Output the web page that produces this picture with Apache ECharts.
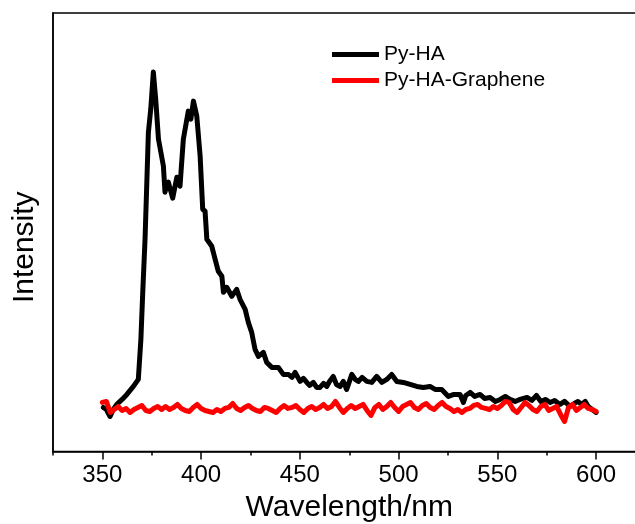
<!DOCTYPE html>
<html>
<head>
<meta charset="utf-8">
<script src="https://cdn.jsdelivr.net/npm/echarts@6/dist/echarts.min.js"></script>
<style>html,body{margin:0;padding:0;background:#fff}#c{width:635px;height:524px}</style>
</head>
<body>
<div id="c"></div>
<script>
// Wavelength (nm) and intensity (a.u.)
const pyHA_wl = [350.5,352,353.9,355.5,357.3,360,362.4,365.7,368.2,369.5,370.5,371.6,373.3,374.5,375.8,377,378.4,380.9,381.7,382.5,383.4,385.6,387.7,389.3,391,393.5,394.8,396.1,397.8,399.5,400.8,402,402.9,405.4,407.1,408.7,410.5,411.3,413,415.5,418,419.7,422.3,423.9,425.6,427.3,429,431.5,433.2,435.8,439.1,441.6,444.2,446,447.6,450.1,451.8,453.5,455,456.8,458.5,460.2,462,463.6,465,466.9,468.5,470.4,472,473.7,476.3,478,479.6,481.5,483.9,486.4,488.9,491.5,494,496.5,499.1,502.4,505.8,509.2,512.5,515.9,518.5,521.8,525.2,528,531.1,532.8,534,536.2,538.5,541.2,543.5,546.3,549,551.4,554,556.4,559,561.5,565,567.5,569.8,572,574.5,576.7,579,581.7,584,586.8,589,590.8,592.8,594.5,596,598,600];
const pyHA_int = [44,42,35,42,47,52,57,65,72,112,162,212,319,342,379,352,312,285,259,267,269,253,274,265,312,340,332,350,335,295,242,240,212,205,192,180,175,159,164,155,162,152,142,129,119,102,95,99,89,84,84,77,77,74,79,70,73,69,66,69,64,64,68,65,70,75,67,65,70,62,77,72,70,74,70,69,75,69,72,77,70,69,67,65,64,65,62,62,55,57,57,49,56,59,55,57,53,54,50,52,55,52,50,52,54,51,56,50,52,49,51,47,50,45,48,50,47,50,45,42,39];

const pyHAG_wl = [350,352,354,356,358,360,362,364,366,368,370,372,374,376,378,380,382,384,386,388,390,392,394,396,398,400,402,404,406,408,410,412,414,416,418,420,422,424,426,428,430,432,434,436,438,440,442,444,446,448,450,452,454,456,458,460,462,464,466,468,470,472,474,476,478,480,482,484,486,488,490,492,494,496,498,500,502,504,506,508,510,512,514,516,518,520,522,524,526,528,530,532,534,536,538,540,542,544,546,548,550,552,554,556,558,560,562,564,566,568,570,572,574,576,578,580,582,584,586,588,590,592,594,596,598,600];
const pyHAG_int = [49,50,39,42,45,41,43,39,42,44,46,41,40,43,45,42,45,42,44,47,43,41,40,44,47,43,41,40,39,42,40,43,44,48,43,41,44,46,43,41,40,44,43,41,39,43,46,43,44,46,42,39,43,45,42,44,47,43,45,50,44,39,43,46,43,45,47,41,36,44,47,42,45,49,44,40,45,47,49,44,42,46,48,44,42,46,49,45,43,40,42,39,42,43,46,47,44,43,42,45,43,46,50,49,42,39,44,49,46,42,40,45,47,41,43,45,37,30,44,47,41,44,47,43,42,40];

const seriesNames = ['Py-HA', 'Py-HA-Graphene'];
const majorTicks = [350, 400, 450, 500, 550, 600];
const minorTicks = [325, 375, 425, 475, 525, 575, 625];
const xMin = 325, xMax = 625;
const yMin = 0, yMax = 438;

const zip = (a, b) => a.map((v, i) => [v, b[i]]);
const FONT = 'Liberation Sans, Arial, sans-serif';

const chart = echarts.init(document.getElementById('c'), null, {renderer: 'canvas'});
chart.setOption({
  animation: false,
  backgroundColor: '#fff',
  grid: {left: 53, top: 13, width: 592.5, height: 438.5, outerBoundsMode: 'none', containLabel: false,
         show: true, borderColor: '#000', borderWidth: 1.5, backgroundColor: 'transparent'},
  legend: {
    orient: 'vertical', left: 332, top: 44, padding: 0, itemGap: 5,
    itemWidth: 47, itemHeight: 5, icon: 'rect',
    textStyle: {fontFamily: FONT, fontSize: 21, color: '#000'},
    data: seriesNames
  },
  xAxis: [{
    type: 'value', min: xMin, max: xMax, position: 'bottom',
    name: 'Wavelength/nm', nameLocation: 'middle', nameGap: 41,
    nameTextStyle: {fontFamily: FONT, fontSize: 30, color: '#000'},
    axisLine: {show: true, lineStyle: {color: '#000', width: 1.5}},
    axisTick: {show: true, inside: false, length: 8, lineStyle: {color: '#000', width: 1.5}, customValues: majorTicks},
    axisLabel: {show: true, margin: 12, fontFamily: FONT, fontSize: 24, color: '#000', customValues: majorTicks},
    splitLine: {show: false}
  }, {
    type: 'value', min: xMin, max: xMax, position: 'bottom', gridIndex: 0,
    axisLine: {show: false},
    axisTick: {show: true, inside: false, length: 4, lineStyle: {color: '#000', width: 1.5}, customValues: minorTicks},
    axisLabel: {show: false},
    splitLine: {show: false}
  }],
  yAxis: {
    type: 'value', min: yMin, max: yMax,
    name: 'Intensity', nameLocation: 'middle', nameGap: 13, nameRotate: 90,
    nameTextStyle: {fontFamily: FONT, fontSize: 30, color: '#000', padding: [0, 30, 0, 0]},
    axisLine: {show: true, lineStyle: {color: '#000', width: 1.5}},
    axisTick: {show: false},
    axisLabel: {show: false},
    splitLine: {show: false}
  },
  series: [{
    name: seriesNames[0], type: 'line', xAxisIndex: 0, showSymbol: false, symbol: 'none',
    color: '#000', lineStyle: {color: '#000', width: 5, join: 'round', cap: 'round'},
    data: zip(pyHA_wl, pyHA_int)
  }, {
    name: seriesNames[1], type: 'line', xAxisIndex: 0, showSymbol: false, symbol: 'none',
    color: '#ff0000', lineStyle: {color: '#ff0000', width: 5, join: 'round', cap: 'round'},
    data: zip(pyHAG_wl, pyHAG_int)
  }]
});
</script>
</body>
</html>
